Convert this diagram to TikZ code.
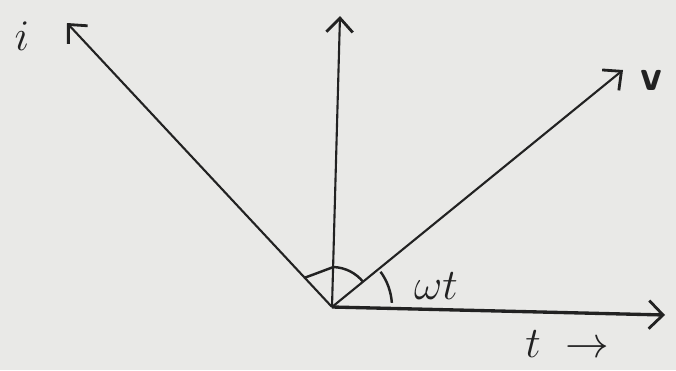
\documentclass[tikz,border=0pt]{standalone}
\usetikzlibrary{arrows.meta, positioning, calc}

\begin{document}
\begin{tikzpicture}[
    x=0.02cm, y=0.02cm,
    every node/.style={font=\fontsize{25}{30}\selectfont, text=ink},
]

% ---------------------------------------------------------------- colours
\definecolor{ink}{HTML}{222222}     % pencil lines and letters
\definecolor{paper}{HTML}{E9E9E7}   % the sheet behind

\tikzset{
    phasor/.style={-{Straight Barb[length=8pt, width=15pt, line width=1.6pt]}, line width=1.2pt, ink},
    taxis/.style={-{Straight Barb[length=8pt, width=16pt, line width=1.6pt]}, line width=1.9pt, ink},
    anglemark/.style={line width=1.4pt, ink},
}

% ================================================================
% picture in pixel units of the sheet, y counted from the bottom
%   origin at (332, 63); i at 133 deg, v at 39 deg
% ================================================================
\fill[paper] (0, 0) rectangle (676, 370);
\useasboundingbox (0, 0) rectangle (676, 370);

\coordinate (O)    at (332, 63);
\coordinate (itip) at (67, 347);
\coordinate (up)   at (340, 354);
\coordinate (vtip) at (623, 300);
\coordinate (ttip) at (665, 55);

% ---------------------------------------------------------------- axes and phasors
\draw[taxis]  (O) -- (ttip);
\draw[phasor] (O) -- (up);
\draw[phasor] (O) -- (itip);
\draw[phasor] (O) -- (vtip);

% ---------------------------------------------------------------- angle marks
\draw[anglemark] ($(O)+(133:40)$) -- ($(O)+(88:40)$) arc (88:39:40);
\draw[anglemark] ($(O)+(36:60)$) arc (36:4:60);

% ---------------------------------------------------------------- labels
\node (ilabel) at (22, 334) {$i$};
\node (vlabel) at (651, 290) {\textsf{\bfseries v}};
\node (wtlabel) at (436, 84) {$\omega t$};
\node (tlabel) at (567, 26) {$t\;\rightarrow$};

\end{tikzpicture}
\end{document}
